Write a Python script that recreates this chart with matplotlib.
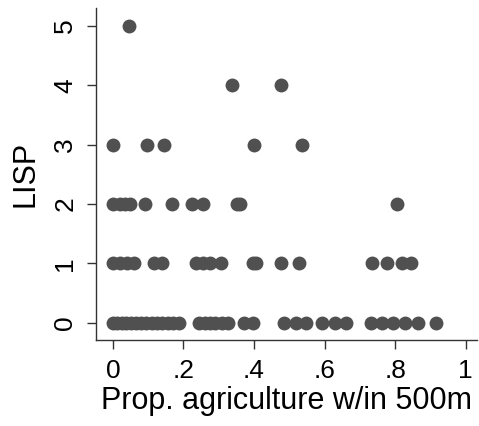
import numpy as np
import matplotlib.pyplot as plt

plt.rcParams['font.family'] = ['Liberation Sans', 'DejaVu Sans']

# LISP counts by proportion of agriculture within 500m
agri_0 = [0.0, 0.012, 0.025, 0.037, 0.05, 0.065, 0.08, 0.095, 0.11, 0.125,
          0.14, 0.155, 0.17, 0.187, 0.245, 0.26, 0.275, 0.29, 0.31, 0.325,
          0.372, 0.396, 0.485, 0.52, 0.548, 0.594, 0.63, 0.661,
          0.731, 0.762, 0.795, 0.828, 0.864, 0.917]
agri_1 = [0.0, 0.02, 0.039, 0.06, 0.116, 0.138, 0.235, 0.256, 0.275, 0.306,
          0.398, 0.405, 0.476, 0.527, 0.734, 0.776, 0.819, 0.844]
agri_2 = [0.0, 0.02, 0.034, 0.048, 0.091, 0.168, 0.225, 0.256, 0.352, 0.36, 0.805]
agri_3 = [0.0, 0.098, 0.146, 0.401, 0.536]
agri_4 = [0.337, 0.476]
agri_5 = [0.046]

groups = [agri_0, agri_1, agri_2, agri_3, agri_4, agri_5]
x = np.concatenate(groups)
y = np.concatenate([[k] * len(g) for k, g in enumerate(groups)])

fig = plt.figure(figsize=(4.79, 4.26), dpi=100)
ax = fig.add_axes([0.2004, 0.2019, 0.7954, 0.7793])

ax.scatter(x, y, s=100, color='#505050', linewidths=0, zorder=3)

ax.set_xlim(-0.048, 1.032)
ax.set_ylim(-0.29, 5.3)

ax.set_xticks([0, 0.2, 0.4, 0.6, 0.8, 1])
ax.set_xticklabels(['0', '.2', '.4', '.6', '.8', '1'])
ax.set_yticks(range(6))
ax.set_yticklabels([str(i) for i in range(6)], rotation=90, va='center')

for s in ['top', 'right']:
    ax.spines[s].set_visible(False)
for s in ['left', 'bottom']:
    ax.spines[s].set_color('#333333')
    ax.spines[s].set_linewidth(1.0)

ax.tick_params(axis='both', length=6.5, width=1.0, color='#333333',
               labelsize=19, labelcolor='black', pad=7)

ax.set_xlabel('Prop. agriculture w/in 500m', fontsize=22, labelpad=2)
ax.set_ylabel('LISP', fontsize=22, labelpad=9)

plt.savefig('out.png', dpi=100)
